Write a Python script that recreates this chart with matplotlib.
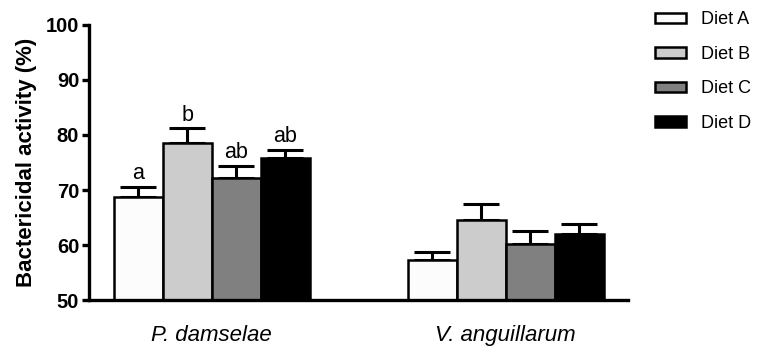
import matplotlib
matplotlib.use("Agg")
import matplotlib.pyplot as plt
import numpy as np
from matplotlib.patches import Patch

plt.rcParams['font.family'] = ['Liberation Sans', 'DejaVu Sans']

groups = ["P. damselae", "V. anguillarum"]
diets = ["Diet A", "Diet B", "Diet C", "Diet D"]
means = {
    "Diet A": [68.8, 57.3],
    "Diet B": [78.6, 64.5],
    "Diet C": [72.1, 60.2],
    "Diet D": [75.8, 62.0],
}
errs = {
    "Diet A": [1.8, 1.5],
    "Diet B": [2.6, 2.9],
    "Diet C": [2.3, 2.3],
    "Diet D": [1.5, 1.8],
}
letters = {
    "Diet A": ["a", ""],
    "Diet B": ["b", ""],
    "Diet C": ["ab", ""],
    "Diet D": ["ab", ""],
}
colors = ["#fcfcfc", "#cccccc", "#808080", "#000000"]

fig = plt.figure(figsize=(7.6, 3.56), dpi=100)
ax = fig.add_axes([0.117, 0.157, 0.709, 0.773])

x = np.arange(len(groups))
w = 0.1667
for i, d in enumerate(diets):
    pos = x + (i - 1.5) * w
    ax.bar(pos, np.array(means[d]) - 50, bottom=50, width=w, color=colors[i],
           edgecolor="black", linewidth=1.8, zorder=2, label=d)
    ax.errorbar(pos, means[d], yerr=[np.zeros(2), errs[d]], fmt="none",
                ecolor="black", elinewidth=2.2, capsize=13, capthick=2.2, zorder=1)
    for j in range(len(groups)):
        if letters[d][j]:
            ax.text(pos[j], means[d][j] + errs[d][j] + 0.5, letters[d][j],
                    ha="center", va="bottom", fontsize=15.5)

ax.set_ylim(50, 100)
ax.set_xlim(-0.418, 1.415)
ax.set_yticks([50, 60, 70, 80, 90, 100])
ax.set_xticks(x)
ax.set_xticklabels(groups, fontstyle="italic", fontsize=16)
ax.tick_params(axis="x", length=0, pad=18)
ax.tick_params(axis="y", width=2.4, length=5, labelsize=14.5, pad=2)
for lab in ax.get_yticklabels():
    lab.set_fontweight("bold")
ax.set_ylabel("Bactericidal activity (%)", fontsize=16, fontweight="bold", labelpad=6)
for s in ["top", "right"]:
    ax.spines[s].set_visible(False)
for s in ["left", "bottom"]:
    ax.spines[s].set_linewidth(2.4)

handles = [Patch(facecolor=c, edgecolor="black", linewidth=1.8) for c in colors]
fig.legend(handles, diets, loc="upper left", bbox_to_anchor=(655 / 760, 0.968),
           frameon=False, fontsize=13, handlelength=1.7, handleheight=0.55,
           labelspacing=0.97, handletextpad=0.85, borderpad=0, borderaxespad=0)

fig.savefig("out.png", dpi=100)
